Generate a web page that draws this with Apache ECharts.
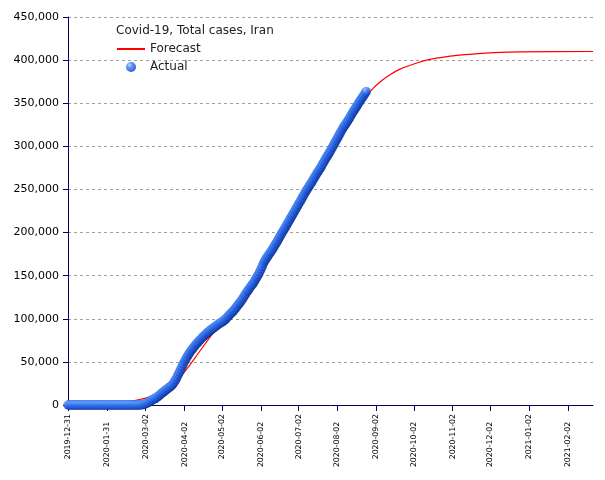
<!DOCTYPE html>
<html>
<head>
<meta charset="utf-8">
<script src="https://cdn.jsdelivr.net/npm/echarts@6/dist/echarts.min.js"></script>
<style>html,body{margin:0;padding:0;background:#fff}#c{width:605px;height:480px}</style>
</head>
<body>
<div id="c"></div>
<script>
// ---- data ----
const chartTitle = 'Covid-19, Total cases, Iran';
const xTickLabels = ['2019-12-31','2020-01-31','2020-03-02','2020-04-02','2020-05-02','2020-06-02','2020-07-02','2020-08-02','2020-09-02','2020-10-02','2020-11-02','2020-12-02','2021-01-02','2021-02-02'];
const yTicks = [0,50000,100000,150000,200000,250000,300000,350000,400000,450000];
const axisStart = '2019-12-31';
const axisEnd = '2021-02-22';

// Actual: daily values starting 2019-12-31
const actualStart = '2019-12-31';
const actualValues = [
0,0,0,0,0,0,0,0,0,0, 0,0,0,0,0,0,0,0,0,0, 0,0,0,0,0,0,0,0,0,0, 0,0,0,0,0,0,0,0,0,0, 0,0,0,0,0,0,0,0,0,0,
2,5,18,28,43,61,95,139,245,388,593,978,1501,2336,2922,3513,4747,5823,6566,7161,8042,9000,10075,11364,12729,13938,14991,16169,17361,18407,19644,20610,21638,23049,24811,27017,29406,32332,35408,38309,41495,44605,
47593,50468,53183,55743,58226,60500,62589,64586,66220,68192,70029,71686,73303,74877,76389,77995,79494,80868,82211,83505,84802,85996,87026,88194,89328,90481,91472,92584,93657,94640,
95646,96448,97424,98647,99970,101650,103135,104691,106220,107603,109286,110767,112725,114533,116635,118392,120198,122492,124603,126949,129341,131652,133521,135701,137724,139511,141591,143849,146668,148950,151466,
154445,157562,160696,164270,167156,169425,171789,173832,175927,177938,180156,182525,184955,187427,189876,192439,195051,197647,200262,202584,204952,207525,209970,212501,215096,217724,220180,222669,225205,227662,
230211,232863,235429,237878,240438,243051,245688,248379,250458,252720,255117,257303,259652,262173,264561,267061,269440,271606,273788,276202,278827,281413,284034,286523,288839,291172,293606,296273,298909,301530,304204,
306752,309437,312035,314786,317483,320117,322567,324692,326712,328844,331189,333699,336324,338825,341070,343203,345450,347835,350279,352558,354764,356792,358905,361150,363363
];

// Forecast: sampled dates and values
const forecastDates = ['2020-02-01','2020-02-10','2020-02-17','2020-02-24','2020-03-02','2020-03-09','2020-03-16','2020-03-23','2020-03-30','2020-04-06','2020-04-13','2020-04-20','2020-04-27','2020-05-04','2020-05-11','2020-05-18','2020-05-25','2020-06-01','2020-06-08','2020-06-15','2020-06-22','2020-06-29','2020-07-06','2020-07-13','2020-07-20','2020-07-27','2020-08-03','2020-08-10','2020-08-17','2020-08-24','2020-08-31','2020-09-07','2020-09-14','2020-09-21','2020-09-28','2020-10-05','2020-10-12','2020-10-19','2020-10-26','2020-11-05','2020-11-20','2020-12-05','2020-12-25','2021-02-22'];
const forecastValues = [1500,2800,4000,5800,8000,11500,16000,23000,33000,46000,60000,74000,88000,102000,116000,129000,140000,152000,170000,188000,205000,222000,240000,257000,274000,290000,307000,324000,340000,356000,368000,377000,384000,389500,393500,397000,400000,402000,403500,405500,407300,408600,409500,410000];

// ---- helpers ----
const DAY = 86400000;
function ms(s){const p=s.split('-').map(Number);return Date.UTC(p[0],p[1]-1,p[2]);}
const t0 = ms(axisStart);
function idx(s){return Math.round((ms(s)-t0)/DAY);}
const actualOffset = idx(actualStart);
const actualData = actualValues.map((v,i)=>[actualOffset+i, v]);
const forecastData = forecastDates.map((d,i)=>[idx(d), forecastValues[i]]);
const tickIdx = xTickLabels.map(idx);
function lab(v){
  const k=tickIdx.indexOf(Math.round(v));
  if(k<0) return '';
  return k%2===0 ? xTickLabels[k] : xTickLabels[k]+'\u2002\u2002';
}

const FONT = 'DejaVu Sans';
const xMax = idx(axisEnd);
const chart = echarts.init(document.getElementById('c'), null, {renderer:'canvas'});
chart.setOption({
  animation:false,
  backgroundColor:'#fff',
  title:{text:chartTitle,left:116,top:25,padding:0,textStyle:{fontFamily:FONT,fontSize:12,fontWeight:'normal',color:'#222'}},
  legend:{
    orient:'vertical',left:116,top:43,padding:0,itemWidth:28,itemHeight:10,itemGap:6,
    textStyle:{fontFamily:FONT,fontSize:12,color:'#222'},
    data:[{name:'Forecast',itemStyle:{opacity:0}},'Actual']
  },
  grid:{left:68,right:12,top:17,bottom:75,containLabel:false},
  xAxis:{
    type:'value',min:0,max:xMax,
    axisLine:{lineStyle:{color:'#000066',width:1}},
    axisTick:{show:true,length:6,lineStyle:{color:'#000066'},customValues:tickIdx},
    splitLine:{show:false},
    axisLabel:{customValues:tickIdx,rotate:90,margin:9,fontFamily:FONT,fontSize:7.8,color:'#000',formatter:lab}
  },
  yAxis:{
    type:'value',min:0,max:450000,interval:50000,
    axisLine:{show:true,lineStyle:{color:'#000066',width:1}},
    axisTick:{show:true,length:5,lineStyle:{color:'#000066'}},
    splitLine:{show:true,lineStyle:{color:'#a0a0a0',type:[3,3],width:1}},
    axisLabel:{fontFamily:FONT,fontSize:11,color:'#000',margin:9,
      formatter:function(v){return v.toLocaleString('en-US');}}
  },
  series:[
    {name:'Forecast',type:'line',data:forecastData,smooth:0.3,symbol:'none',z:2,
      lineStyle:{color:'#ff0000',width:1.2},itemStyle:{color:'#ff0000'}},
    {name:'Actual',type:'scatter',data:actualData,symbol:'circle',symbolSize:9.5,z:3,
      itemStyle:{color:{type:'radial',x:0.35,y:0.3,r:0.75,colorStops:[{offset:0,color:'#aad2ff'},{offset:0.35,color:'#3d7ef2'},{offset:0.75,color:'#1a50d0'},{offset:1,color:'#0a2a80'}]}}}
  ]
});
</script>
</body>
</html>
